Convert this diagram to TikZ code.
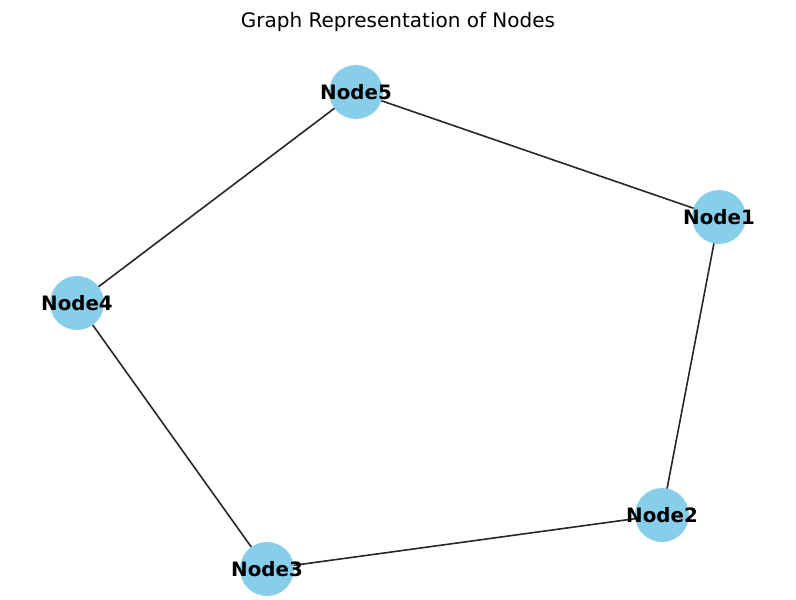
\documentclass[tikz,border=0pt]{standalone}
\usepackage{fontspec}
\setmainfont{DejaVu Sans}
\usetikzlibrary{backgrounds}
\definecolor{skyblue}{RGB}{135,206,235}
\begin{document}
\begin{tikzpicture}[x=1pt,y=1pt,
    vertex/.style={circle,fill=skyblue,minimum size=54pt,inner sep=0pt},
    vlabel/.style={font=\fontsize{19.8}{20}\selectfont\bfseries,inner sep=0pt},
    link/.style={black!85,line width=1.6pt}]
    \useasboundingbox (0,0) rectangle (796,600);

    \node[font=\fontsize{20}{21}\selectfont] (title) at (398,578) {Graph Representation of Nodes};

    \node[vertex] (n1) at (719,383) {};
    \node[vertex] (n2) at (662,85) {};
    \node[vertex] (n3) at (267,31) {};
    \node[vertex] (n4) at (77,297) {};
    \node[vertex] (n5) at (356,508) {};

    \foreach \i in {1,...,5}
        \node[vlabel] (t\i) at (n\i) {Node\i};

    \begin{scope}[on background layer]
        \draw[link] (n5.center) -- (n1.center);
        \draw[link] (n1.center) -- (n2.center);
        \draw[link] (n2.center) -- (n3.center);
        \draw[link] (n3.center) -- (n4.center);
        \draw[link] (n4.center) -- (n5.center);
    \end{scope}
\end{tikzpicture}
\end{document}
